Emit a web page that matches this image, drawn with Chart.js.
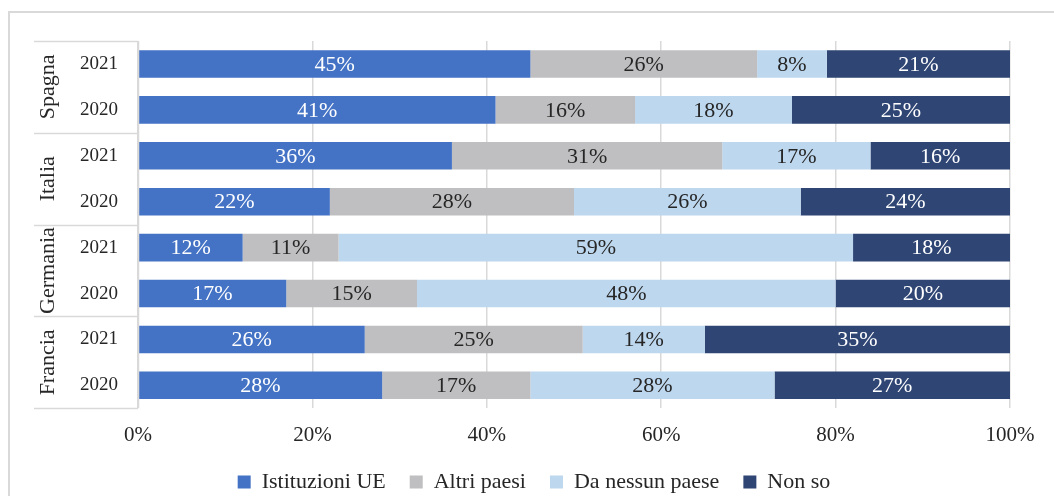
<!DOCTYPE html>
<html>
<head>
<meta charset="utf-8">
<script src="https://cdn.jsdelivr.net/npm/chart.js@4"></script>
<style>
  html, body { margin: 0; padding: 0; background: #fff; overflow: hidden; }
  #frame { position: absolute; left: 8px; top: 11px; width: 1100px; height: 520px;
           border-left: 2px solid #d9d9d9; border-top: 2px solid #d9d9d9; }
  #wrap { position: absolute; left: 0; top: 0; width: 1054px; height: 503px; }
</style>
</head>
<body>
<div id="frame"></div>
<div id="wrap"><canvas id="chart"></canvas></div>
<script>
// rows top to bottom
const years = ['2021', '2020', '2021', '2020', '2021', '2020', '2021', '2020'];
const countries = ['Spagna', 'Italia', 'Germania', 'Francia'];

const istituzioniUE = [45, 41, 36, 22, 12, 17, 26, 28];
const altriPaesi    = [26, 16, 31, 28, 11, 15, 25, 17];
const nessunPaese   = [8, 18, 17, 26, 59, 48, 14, 28];
const nonSo         = [21, 25, 16, 24, 18, 20, 35, 27];

const FONT = '"Liberation Serif", "DejaVu Serif", serif';

// value labels in the middle of each segment
const barLabels = {
  id: 'barLabels',
  afterDatasetsDraw(chart) {
    const ctx = chart.ctx;
    ctx.save();
    ctx.font = '22px ' + FONT;
    ctx.textAlign = 'center';
    ctx.textBaseline = 'middle';
    chart.data.datasets.forEach((ds, i) => {
      const meta = chart.getDatasetMeta(i);
      meta.data.forEach((bar, j) => {
        const x = (bar.x + bar.base) / 2;
        ctx.fillStyle = ds.labelColor;
        ctx.fillText(ds.data[j] + '%', x, bar.y + 1);
      });
    });
    ctx.restore();
  }
};

// country group labels + separators on the left
const groupAxis = {
  id: 'groupAxis',
  afterDraw(chart) {
    const ctx = chart.ctx;
    const y = chart.scales.y;
    const left = chart.chartArea.left;
    const step = y.getPixelForValue(1) - y.getPixelForValue(0);
    ctx.save();
    ctx.strokeStyle = '#d9d9d9';
    ctx.lineWidth = 1.5;
    for (let g = 0; g <= countries.length; g++) {
      const py = Math.round(y.getPixelForValue(g * 2) - step / 2) + 0.5;
      ctx.beginPath();
      ctx.moveTo(34, py);
      ctx.lineTo(left, py);
      ctx.stroke();
    }
    ctx.beginPath();
    ctx.moveTo(left + 0.5, chart.chartArea.top);
    ctx.lineTo(left + 0.5, chart.chartArea.bottom);
    ctx.stroke();
    ctx.fillStyle = '#262626';
    ctx.font = '22px ' + FONT;
    ctx.textAlign = 'center';
    ctx.textBaseline = 'middle';
    countries.forEach((c, g) => {
      const cy = (y.getPixelForValue(g * 2) + y.getPixelForValue(g * 2 + 1)) / 2;
      ctx.save();
      ctx.translate(48, cy);
      ctx.rotate(-Math.PI / 2);
      ctx.fillText(c, 0, 0);
      ctx.restore();
    });
    ctx.restore();
  }
};

new Chart(document.getElementById('chart'), {
  type: 'bar',
  data: {
    labels: years,
    datasets: [
      { label: 'Istituzioni UE', data: istituzioniUE, backgroundColor: '#4472c4', labelColor: '#ffffff' },
      { label: 'Altri paesi', data: altriPaesi, backgroundColor: '#bfbfc1', labelColor: '#262626' },
      { label: 'Da nessun paese', data: nessunPaese, backgroundColor: '#bdd7ee', labelColor: '#262626' },
      { label: 'Non so', data: nonSo, backgroundColor: '#2f4574', labelColor: '#ffffff' }
    ]
  },
  options: {
    indexAxis: 'y',
    responsive: true,
    maintainAspectRatio: false,
    animation: false,
    datasets: { bar: { barPercentage: 0.6, categoryPercentage: 1, borderWidth: 0 } },
    layout: { padding: { left: 58, right: 44, top: 41, bottom: 0 } },
    scales: {
      x: {
        stacked: true,
        min: 0,
        max: 100,
        border: { display: false },
        grid: { color: '#d9d9d9', lineWidth: 1.5, drawTicks: false },
        ticks: {
          stepSize: 20,
          padding: 15,
          color: '#262626',
          font: { family: FONT, size: 21 },
          callback: v => v + '%'
        }
      },
      y: {
        stacked: true,
        border: { display: false },
        grid: { display: false, drawTicks: false },
        afterFit(scale) { scale.width = 80; },
        ticks: {
          padding: 20,
          color: '#262626',
          font: { family: FONT, size: 19 }
        }
      }
    },
    plugins: {
      legend: {
        position: 'bottom',
        labels: {
          boxWidth: 13,
          boxHeight: 13,
          padding: 7.5,
          color: '#262626',
          font: { family: FONT, size: 22 },
          // extra space after each item except the last
          generateLabels(chart) {
            const items = Chart.defaults.plugins.legend.labels.generateLabels(chart);
            items.forEach((it, i) => { if (i < items.length - 1) it.text += '   '; });
            return items;
          }
        }
      },
      tooltip: { enabled: false }
    }
  },
  plugins: [barLabels, groupAxis]
});
</script>
</body>
</html>
